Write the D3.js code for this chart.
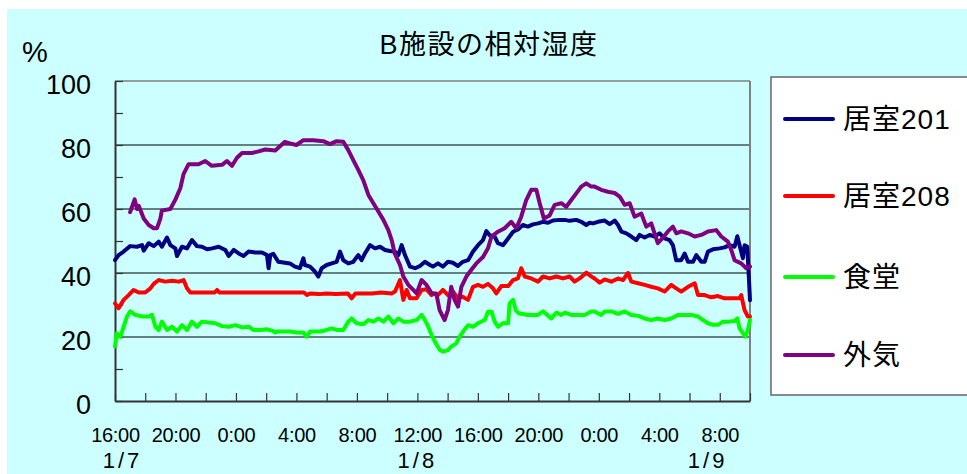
<!DOCTYPE html>
<html>
<head>
<meta charset="utf-8">
<script src="https://cdn.jsdelivr.net/npm/d3@7"></script>
<style>
  html, body { margin: 0; padding: 0; background: #ffffff; }
  svg { display: block; }
  text { font-family: "Liberation Sans", "Noto Sans CJK JP", sans-serif; fill: #000; }
</style>
</head>
<body>
<svg id="chart" width="967" height="474"></svg>
<script>
// Relative humidity, facility B — hours counted from 16:00 on 1/7
const title = "B施設の相対湿度";
const unitLabel = "%";
const seriesNames = ["居室201", "居室208", "食堂", "外気"];
const seriesColors = ["#000080", "#ff0000", "#00ff00", "#800080"];

const yTicks = [0, 20, 40, 60, 80, 100];
const yMinorTicks = [10, 30, 50, 70, 90];
const timeTickHours = [0, 4, 8, 12, 16, 20, 24, 28, 32, 36, 40];
const timeTickLabels = ["16:00", "20:00", "0:00", "4:00", "8:00", "12:00", "16:00", "20:00", "0:00", "4:00", "8:00"];
const dateLabelHours = [0.5, 20, 39.2];
const dateLabels = ["1/7", "1/8", "1/9"];

// 居室201
const hours201 = [0,0.24,0.57,1.0,1.45,1.79,1.9,2.23,2.56,2.89,3.1,3.44,3.66,3.99,4.1,4.43,4.76,5.09,5.42,5.75,6.09,6.42,6.86,7.3,7.52,7.85,8.18,8.5,8.84,9.28,9.72,10.05,10.16,10.27,
  10.47,10.8,11.24,11.57,11.9,12.23,12.46,12.56,12.9,13.23,13.45,13.67,14.0,14.33,14.66,14.88,15.1,15.43,15.76,16.09,16.31,16.53,16.87,17.2,17.53,17.86,18.19,18.52,18.74,18.96,19.18,19.51,19.85,20.17,20.5,20.83,
  21.03,21.36,21.69,22.02,22.35,22.68,23.0,23.35,23.68,24.01,24.34,24.56,24.78,25.11,25.33,25.66,26.0,26.33,26.65,26.98,27.31,27.64,27.98,28.31,28.64,28.97,29.41,29.74,30.07,30.51,30.84,31.17,31.39,
  31.61,31.95,32.39,32.72,33.05,33.27,33.5,33.82,34.15,34.48,34.7,35.03,35.36,35.69,36.02,36.35,36.68,36.9,37.12,37.45,37.68,37.9,38.23,38.45,38.78,39.0,39.22,39.55,39.99,40.32,40.65,40.98,41.16,41.31,41.53,41.64,41.82,41.91,42.0];
const rh201 = [44,45.6,46.7,48.4,48.2,48.7,47,49.3,48.4,49.8,48.2,51.1,48.7,47.7,45.3,48.2,47.7,50.3,48.4,48.2,47.4,47.7,48.2,47.2,45.3,47.2,46.1,45.3,46.7,46.4,46.4,45.6,41.5,45.6,
  46,43.5,43.2,43,42,41.5,44.6,42.5,42,40.4,38.9,41.5,42.5,43,43.5,46.7,44,43,43.5,45.6,44,46.1,48.7,47.7,48.2,47.2,46.9,46.7,45.6,48.7,45.6,42,41.5,42.2,43.5,42.5,
  42,43,42,43.5,43.2,42.2,43.5,44,46.7,48.7,50.3,53.1,51.8,51.4,49.3,48.7,50.8,52.9,53.6,55,54.5,55.2,55.5,56,55.7,56.4,56.6,56.6,56.3,56.6,56,55,55.7,
  55.5,56,56.4,55.3,56.4,55,52.9,52.4,51.4,50.3,51.9,51.1,51.9,51.4,52.4,50.8,50.3,48.7,44,44,46.1,43.5,43.5,45.6,43.5,43.5,46.7,47.4,47.7,48,48.7,48.2,51.5,48.7,44.6,48.7,48.2,40,31.5];

// 居室208
const hours208 = [0,0.24,0.57,0.9,1.23,1.57,2.0,2.34,2.56,2.89,3.33,3.77,4.21,4.54,4.76,4.98,6.6,6.75,6.9,9.0,12.5,12.7,12.9,13.5,14.0,14.6,15.4,15.65,15.9,17.0,17.6,18.3,18.52,18.85,19.07,19.29,19.51,19.95,20.28,20.61,20.94,
  21.03,21.36,21.69,22.02,22.35,22.68,23.0,23.35,23.68,24.01,24.34,24.67,25.0,25.22,25.55,26.0,26.33,26.65,26.87,27.1,27.53,27.98,28.31,28.75,29.19,29.63,30.07,30.4,30.73,31.17,31.5,
  31.72,32.06,32.39,32.83,33.27,33.6,33.93,34.15,34.6,35.03,35.47,35.9,36.35,36.79,37.12,37.45,37.9,38.34,38.56,39.0,39.44,39.88,40.32,40.76,41.31,41.42,41.64,41.86,42.0];
const rh208 = [30.5,29,31.6,33.1,34.7,33.9,33.9,35.2,36.6,37.8,37.3,37.6,37.3,37.8,35.2,33.9,33.9,34.7,33.9,33.9,33.9,33.1,33.6,33.4,33.6,33.4,33.6,32.1,33.6,33.6,33.9,33.6,34.2,37.8,31.6,34.7,32.1,32.1,34.7,34.9,33.1,
  33.6,33.1,34.7,33.1,34.2,32.1,32.6,31.6,35.7,36.3,35.7,36.6,35.2,33.6,35.9,35.9,37.8,38.3,41.5,38.9,38.3,37.3,38.9,38.3,38.9,38.3,38.9,37.3,38.3,40.1,38.9,
  38.3,37,38,37.3,38.3,37.8,40,37.3,36.8,36.3,35.7,35.2,34.2,36.3,35.2,34.2,35.7,36.8,33.1,33.1,32.4,32.8,32.1,32.1,32.1,33.1,28.4,26.4,26.4];

// 食堂
const hoursDining = [0,0.12,0.35,0.57,0.79,1.01,1.34,1.79,2.23,2.45,2.67,2.89,3.1,3.44,3.77,4.1,4.43,4.76,5.09,5.42,5.75,6.2,6.64,7.08,7.52,7.96,8.4,8.84,9.17,9.61,10.05,10.38,10.6,
  10.7,11.13,11.57,12.0,12.46,12.68,12.9,13.56,14.0,14.33,14.66,15.1,15.43,15.65,15.98,16.42,16.76,17.09,17.42,17.75,18.08,18.41,18.74,19.07,19.51,19.95,20.28,20.5,20.72,20.94,21.16,
  21.47,21.7,22.02,22.24,22.57,22.8,23.1,23.35,23.68,24.0,24.45,24.67,24.9,25.11,25.33,25.66,26.0,26.1,26.33,26.5,26.7,27.31,27.98,28.31,28.86,29.19,29.52,29.74,30.18,31.06,31.5,
  31.72,32.16,32.39,32.83,33.27,33.71,34.15,34.6,35.03,35.47,35.9,36.35,36.79,37.23,37.68,38.12,38.56,38.89,39.22,39.55,39.88,40.21,40.54,40.98,41.16,41.31,41.53,41.69,41.86,42.0];
const rhDining = [17,21.2,20,23.2,26.4,28,26.9,26.4,26.4,26.9,23.2,22.2,24.8,22.2,23.2,21.7,23.7,22.2,24.8,23.2,24.8,24.5,24.3,23.4,23.2,23.7,23,23.2,22.2,22.2,22.4,22,21.4,
  21.7,21.7,21.7,21.4,21.4,20.1,21.7,21.7,22.2,22.7,22.2,22.2,24.8,25.8,24.3,24,25.3,24.8,25.8,24.8,26.4,24.3,25.8,24.8,24.8,25.3,26.9,25.3,23.2,20.6,18.5,
  16,15.4,15.9,17,18,20.1,22.2,23.7,23.2,24.3,25.3,27.9,27.9,24.8,23.2,24.3,24.3,30.5,31.6,28.4,27.4,26.9,26.9,28,25.8,27.6,26.9,27.6,26.9,26.9,28,
  28,26.9,28,28,27.2,28,26.9,26.6,25.8,25.3,25.8,25.3,25.8,26.9,26.9,26.9,26.4,25.3,24.3,23.8,23.8,24.8,24.8,25,25.8,22.7,21.2,20.1,22.2,25.3];

// 外気
const hoursOutdoor = [1.0,1.3,1.46,1.57,1.9,2.23,2.56,2.78,3.0,3.1,3.66,4.0,4.32,4.54,4.87,5.53,5.97,6.4,7.08,7.4,7.74,8.07,8.4,9.06,9.5,9.94,10.6,
  11.24,11.57,12.0,12.46,13.12,13.78,14.22,14.66,15.1,15.43,15.76,16.09,16.42,16.76,17.09,17.42,17.75,18.08,18.3,18.5,18.85,19.07,19.4,19.73,19.95,20.28,20.6,20.95,
  21.25,21.47,21.8,22.02,22.24,22.47,22.69,22.91,23.24,23.57,23.9,24.34,24.67,24.9,25.33,25.77,26.21,26.54,26.87,27.2,27.53,27.87,28.09,28.37,28.75,29.08,29.52,29.85,30.18,30.51,30.84,31.17,31.5,
  31.72,32.16,32.6,33.05,33.38,33.71,34.04,34.37,34.81,35.14,35.47,35.9,36.2,36.57,36.9,37.13,37.45,37.9,38.34,38.78,39.22,39.77,40.1,40.54,40.76,40.98,41.42,41.75,42.0];
const rhOutdoor = [59,63,60,61,57,55,54,54,57,59.5,60,63,66.5,71,74,74,75,73.5,73.8,75,73.5,76,77.5,77.5,78,78.6,78.3,
  81,80.5,80,81.5,81.5,81.2,80.3,81.2,81,78.4,75.3,72.2,69,64.4,61.8,59.2,56.6,53.4,50.3,46.1,42.5,38.9,36.3,34.7,33.6,37.8,36.3,33.6,
  33.6,28.4,25.3,28.4,35.7,31.5,29.5,35.7,38.9,41,43,45,47.7,51.4,52.9,54,56,54,57.6,62.8,66,66,61.8,57,58,61.3,61.8,60.7,62.8,64.9,67,68,67,
  67,66,65.4,65,63.9,61.3,61.8,57.6,58.6,54.5,55.5,49.3,50.8,53,54.5,52.4,53,52.4,51.4,51.9,53,53.4,51.4,49.8,47.2,44,43,41.5,42];

const seriesHours = [hours201, hours208, hoursDining, hoursOutdoor];
const seriesValues = [rh201, rh208, rhDining, rhOutdoor];

const svg = d3.select("#chart");
const plot = { left: 115, right: 750, top: 81, bottom: 401 };

const x = d3.scaleLinear().domain([0, 42]).range([plot.left, plot.right]);
const y = d3.scaleLinear().domain([0, 100]).range([plot.bottom, plot.top]);

// backdrop
svg.append("rect").attr("x", 7).attr("y", 9).attr("width", 960).attr("height", 465).attr("fill", "#ccffff");

// title and unit
svg.append("text").attr("x", 489).attr("y", 54).attr("text-anchor", "middle")
  .style("font-size", "27px").style("letter-spacing", "1.5px").text(title);
svg.append("text").attr("x", 22).attr("y", 62).style("font-size", "29px").text(unitLabel);

// horizontal gridlines
svg.append("g").selectAll("line").data(yTicks.filter(v => v > 0 && v < 100)).join("line")
  .attr("x1", plot.left).attr("x2", plot.right)
  .attr("y1", d => y(d)).attr("y2", d => y(d))
  .attr("stroke", "#000").attr("stroke-width", 1);

// top and right frame
svg.append("line").attr("x1", plot.left).attr("x2", plot.right).attr("y1", y(100)).attr("y2", y(100))
  .attr("stroke", "#808080").attr("stroke-width", 1.5);
svg.append("line").attr("x1", plot.right).attr("x2", plot.right).attr("y1", plot.top).attr("y2", plot.bottom)
  .attr("stroke", "#808080").attr("stroke-width", 2);

// y axis with inward ticks
const yAxis = d3.axisLeft(y).tickValues(yTicks).tickSizeInner(-8).tickSizeOuter(0).tickPadding(24);
const gy = svg.append("g").attr("transform", `translate(${plot.left},0)`).call(yAxis);
gy.selectAll("text").style("font-size", "27px").attr("dy", "0.47em");
const gyMinor = svg.append("g").attr("transform", `translate(${plot.left},0)`)
  .call(d3.axisLeft(y).tickValues(yMinorTicks).tickSizeInner(-8).tickSizeOuter(0).tickFormat(""));
gyMinor.select(".domain").remove();

// x axis: ticks every 2 hours, labels every 4 hours
const xAxis = d3.axisBottom(x).tickValues(d3.range(0, 43, 2)).tickSizeInner(-8).tickSizeOuter(0).tickPadding(27)
  .tickFormat(h => { const i = timeTickHours.indexOf(h); return i >= 0 ? timeTickLabels[i] : ""; });
const gx = svg.append("g").attr("transform", `translate(0,${plot.bottom})`).call(xAxis);
gx.selectAll("text").style("font-size", "20px").style("letter-spacing", "-0.3px");

[gy, gyMinor, gx].forEach(g => {
  g.selectAll("line").attr("stroke", "#333").attr("stroke-width", 1.2);
  g.selectAll(".domain").attr("stroke", "#333").attr("stroke-width", 2);
});

// date labels under the time labels
svg.append("g").selectAll("text").data(dateLabels).join("text")
  .attr("x", (d, i) => x(dateLabelHours[i])).attr("y", 468)
  .attr("text-anchor", "middle").style("font-size", "22px").style("letter-spacing", "3px")
  .text(d => d);

// series lines
const line = d3.line().x(d => x(d[0])).y(d => y(d[1]));
seriesNames.forEach((name, i) => {
  const pts = seriesHours[i].map((h, k) => [h, seriesValues[i][k]]);
  svg.append("path").datum(pts)
    .attr("fill", "none").attr("stroke", seriesColors[i]).attr("stroke-width", 4)
    .attr("stroke-linejoin", "round").attr("stroke-linecap", "round")
    .attr("d", line);
});

// legend
const legend = svg.append("g");
legend.append("rect").attr("x", 771).attr("y", 77).attr("width", 200).attr("height", 318)
  .attr("fill", "#fff").attr("stroke", "#666").attr("stroke-width", 1.5);
const legendY = [119, 196, 277, 355];
seriesNames.forEach((name, i) => {
  legend.append("line").attr("x1", 785).attr("x2", 833).attr("y1", legendY[i]).attr("y2", legendY[i])
    .attr("stroke", seriesColors[i]).attr("stroke-width", 4).attr("stroke-linecap", "round");
  legend.append("text").attr("x", 843).attr("y", legendY[i]).attr("dy", "0.36em")
    .style("font-size", "28px").style("letter-spacing", "1px").text(name);
});
</script>
</body>
</html>
